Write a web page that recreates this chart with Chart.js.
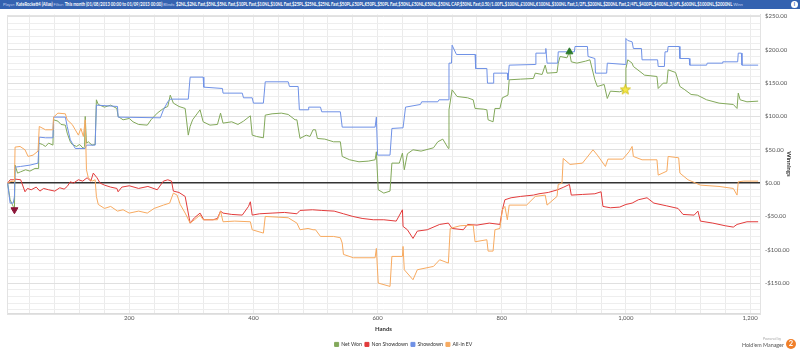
<!DOCTYPE html>
<html><head><meta charset="utf-8">
<script src="https://cdn.jsdelivr.net/npm/chart.js@4/dist/chart.umd.min.js"></script>
<style>
html,body{margin:0;padding:0;background:#fff;}
#wrap{position:relative;width:800px;height:352px;overflow:hidden;}
#hdr{position:absolute;left:0;top:0;width:800px;height:9px;background:#3462b0;z-index:2;overflow:hidden;}
#hdrtxt{position:absolute;left:3px;top:0;width:880px;color:#fff;font:bold 4.6px Lato,sans-serif;line-height:9px;white-space:nowrap;overflow:hidden;transform:scaleX(0.885);transform-origin:0 0;}
#hdr .k{color:#c4d3f0;font-weight:normal;}
#info{position:absolute;right:2px;top:1px;width:7px;height:7px;border-radius:50%;background:#fff;color:#3462b0;font:bold 5px Lato,sans-serif;text-align:center;line-height:7px;z-index:3;}
#powered{position:absolute;left:763px;top:336.5px;font:3.5px Lato,sans-serif;color:#aaa;}
#hm{position:absolute;left:742px;top:342px;font:5.4px Lato,sans-serif;color:#555;white-space:nowrap;}
#hm2{position:absolute;left:786px;top:339px;width:10px;height:10px;border-radius:50%;background:#f07f2a;color:#fff;font:bold 7.5px Lato,sans-serif;text-align:center;line-height:10px;}
canvas{position:absolute;left:0;top:0;}
</style></head>
<body><div id="wrap">
<canvas id="c" width="800" height="352"></canvas>
<div id="hdr"><div id="hdrtxt"><span class="k">Player:</span> KateRockett4 (Alias) <span class="k">Filter:</span> This month (01/08/2013 00:00 to 01/09/2013 00:00) <span class="k">Blinds:</span> $2NL,$2NL Fast,$5NL,$5NL Fast,$10PL Fast,$10NL,$10NL Fast,$25PL,$25NL,$25NL Fast,$50PL,£50PL,€50PL,$50PL Fast,$50NL,£50NL,€50NL,$50NL CAP,$50NL Fast,0.50/1.00FL,$100NL,£100NL,€100NL,$100NL Fast,1/2FL,$200NL,$200NL Fast,2/4FL,$400PL,$400NL,3/6FL,$600NL,$1000NL,$2000NL <span class="k">Winn</span></div></div>
<div id="info">i</div>
<div id="powered">Powered by</div>
<div id="hm">Hold'em Manager</div>
<div id="hm2">2</div>
</div>
<script>
// ---- data: [hand, winnings $] ----
const netWon = [[4,0],[8,-25],[13,-35],[15,-40],[16,27],[20,15],[25,17],[33,20],[40,18],[48,22],[53,22],[54,60],[60,58],[65,55],[70,60],[77,57],[78,95],[85,93],[90,88],[97,87],[100,75],[105,62],[108,58],[115,55],[120,58],[126,52],[128,55],[129,100],[131,60],[134,62],[140,57],[145,58],[147,125],[150,118],[160,114],[170,117],[180,112],[182,100],[190,95],[200,97],[206,92],[215,88],[229,87],[235,95],[245,105],[255,112],[262,115],[266,132],[271,120],[280,115],[290,112],[295,72],[298,85],[302,95],[310,105],[314,110],[319,92],[330,87],[342,88],[347,105],[351,90],[365,92],[375,88],[384,93],[395,101],[398,72],[405,70],[416,68],[419,102],[430,104],[445,105],[456,103],[467,95],[470,95],[475,67],[485,72],[491,70],[496,80],[500,80],[503,67],[515,66],[529,62],[540,62],[543,40],[555,35],[570,32],[585,33],[596,35],[598,47],[601,-10],[610,-15],[620,-12],[623,30],[635,30],[640,45],[643,20],[648,44],[657,50],[670,48],[690,53],[697,62],[705,66],[714,52],[715,110],[720,140],[728,130],[745,128],[754,125],[757,112],[770,111],[776,110],[778,95],[786,92],[789,112],[797,112],[801,128],[810,132],[812,155],[830,156],[851,157],[854,165],[865,163],[870,177],[873,165],[889,166],[891,180],[894,190],[905,188],[909,197],[912,182],[921,180],[935,183],[942,185],[950,155],[954,145],[965,148],[970,127],[975,138],[990,137],[999,140],[1000,172],[1003,185],[1010,180],[1012,175],[1026,165],[1030,162],[1050,160],[1052,142],[1060,150],[1066,150],[1068,170],[1080,166],[1087,145],[1095,140],[1105,133],[1115,132],[1130,125],[1150,120],[1173,118],[1179,112],[1181,135],[1184,125],[1195,122],[1213,123]];

const nonShowdown = [[4,0],[8,5],[13,5],[16,6],[25,5],[32,-13],[36,-8],[42,-10],[50,-6],[56,-12],[62,-8],[70,-10],[80,-12],[88,-7],[95,-9],[100,-5],[105,2],[110,0],[118,5],[125,3],[132,8],[138,3],[142,15],[148,8],[153,0],[160,-3],[170,-6],[180,-8],[182,-13],[188,-6],[200,-4],[215,-8],[230,-5],[245,-10],[255,3],[262,5],[268,3],[271,-12],[280,-14],[290,-20],[298,-60],[305,-52],[314,-45],[320,-55],[335,-55],[342,-53],[347,-42],[351,-45],[365,-47],[382,-48],[392,-35],[395,-28],[398,-48],[410,-46],[430,-45],[450,-44],[470,-46],[475,-41],[495,-40],[510,-41],[530,-42],[545,-46],[560,-50],[575,-53],[593,-55],[610,-55],[630,-57],[640,-40],[641,-65],[648,-70],[657,-83],[664,-72],[680,-70],[700,-62],[714,-60],[720,-68],[738,-70],[745,-62],[760,-63],[780,-60],[797,-62],[801,-40],[805,-25],[815,-22],[830,-20],[851,-18],[860,-16],[875,-14],[890,-10],[900,-6],[909,-2],[912,-18],[930,-17],[950,-16],[960,-13],[963,-35],[975,-37],[990,-36],[1000,-32],[1010,-30],[1020,-25],[1034,-22],[1045,-30],[1065,-34],[1084,-38],[1092,-47],[1110,-48],[1116,-42],[1120,-57],[1140,-60],[1160,-64],[1173,-66],[1179,-62],[1195,-58],[1213,-58]];

const showdown = [[4,0],[8,-30],[13,-30],[15,-20],[16,24],[25,25],[40,27],[53,30],[55,69],[65,68],[77,68],[78,99],[97,99],[100,85],[105,65],[108,60],[113,52],[129,52],[131,57],[145,57],[147,117],[181,115],[182,99],[250,98],[255,110],[262,122],[266,126],[295,126],[298,159],[319,159],[320,144],[350,142],[351,135],[382,135],[384,128],[398,128],[400,120],[416,120],[419,152],[456,152],[458,145],[472,145],[474,110],[488,110],[489,114],[508,114],[510,107],[540,107],[543,84],[596,84],[598,99],[600,42],[620,42],[623,82],[641,83],[645,114],[669,118],[671,122],[697,122],[699,125],[714,125],[715,180],[719,180],[720,207],[727,193],[757,193],[758,172],[776,172],[777,150],[786,150],[787,165],[809,165],[810,155],[812,177],[854,178],[855,195],[870,195],[871,202],[873,180],[890,180],[891,197],[917,197],[918,205],[938,205],[939,190],[950,187],[951,165],[969,165],[970,180],[999,178],[1000,217],[1003,214],[1010,212],[1012,202],[1025,202],[1026,185],[1051,185],[1052,175],[1062,175],[1063,197],[1067,197],[1068,205],[1086,205],[1087,187],[1102,187],[1103,177],[1130,177],[1131,180],[1155,180],[1156,182],[1180,182],[1181,195],[1186,195],[1187,177],[1213,177]];

const allInEV = [[4,0],[8,2],[13,3],[15,2],[16,54],[24,55],[32,50],[37,40],[45,42],[53,48],[55,85],[65,80],[77,80],[78,99],[85,105],[97,104],[100,95],[108,88],[113,80],[118,72],[122,82],[126,70],[129,95],[131,20],[134,8],[140,3],[145,5],[147,-20],[150,-32],[160,-38],[170,-35],[181,-42],[190,-40],[200,-45],[215,-42],[229,-45],[240,-38],[255,-33],[265,-30],[271,-15],[277,-18],[282,-32],[290,-45],[298,-60],[305,-55],[314,-48],[319,-55],[342,-55],[347,-42],[351,-58],[370,-57],[395,-58],[398,-70],[416,-75],[419,-50],[456,-52],[470,-60],[475,-70],[488,-68],[496,-70],[500,-70],[508,-80],[529,-80],[540,-82],[543,-90],[545,-107],[561,-112],[596,-112],[598,-98],[601,-150],[620,-155],[623,-110],[640,-110],[641,-95],[643,-130],[657,-145],[664,-130],[690,-125],[700,-115],[714,-120],[717,-68],[733,-64],[754,-63],[757,-88],[776,-85],[778,-102],[786,-102],[789,-70],[797,-68],[801,-40],[805,-35],[809,-55],[812,-33],[840,-33],[854,-20],[870,-18],[873,-33],[889,-20],[891,-2],[897,0],[899,37],[910,28],[930,30],[947,50],[954,42],[967,25],[971,36],[995,36],[1005,47],[1010,55],[1012,40],[1026,35],[1050,35],[1052,12],[1066,18],[1068,40],[1085,38],[1087,15],[1100,5],[1120,-3],[1150,-5],[1173,-8],[1179,-18],[1181,2],[1190,3],[1213,3]];

const seriesNames = ['Net Won', 'Non Showdown', 'Showdown', 'All-in EV'];
const starPoint = [[999, 140]];
const handLabels = [200, 400, 600, 800, 1000, 1200];

// ---- styling ----
const colors = ['#82a85a', '#e23b3b', '#6f91e6', '#f7aa60'];
Chart.defaults.font.family = "Lato, sans-serif";

function starImage(size, fill, stroke) {
  const c = document.createElement('canvas'); c.width = c.height = size;
  const g = c.getContext('2d'); g.beginPath();
  for (let i = 0; i < 10; i++) {
    const r = i % 2 ? size * 0.2 : size * 0.48, a = -Math.PI / 2 + i * Math.PI / 5;
    g.lineTo(size / 2 + r * Math.cos(a), size / 2 + r * Math.sin(a));
  }
  g.closePath(); g.fillStyle = fill; g.fill(); g.strokeStyle = stroke; g.lineWidth = 0.8; g.stroke();
  return c;
}

const series = [netWon, nonShowdown, showdown, allInEV];
const lowPt = netWon.reduce((a, b) => b[1] < a[1] ? b : a);
const highPt = netWon.reduce((a, b) => b[1] > a[1] ? b : a);

const datasets = series.map((d, i) => ({
  label: seriesNames[i], data: d, borderColor: colors[i], backgroundColor: colors[i],
  borderWidth: 1, pointRadius: 0, tension: 0, fill: false, order: 4 - i
}));
datasets.push({label: 'low', data: [lowPt], type: 'scatter', pointStyle: 'triangle', rotation: 180, pointRadius: 4, backgroundColor: '#8b1538', borderColor: '#8b1538', order: 0});
datasets.push({label: 'high', data: [highPt], type: 'scatter', pointStyle: 'triangle', pointRadius: 4, backgroundColor: '#2b7a2b', borderColor: '#2b7a2b', order: 0});
datasets.push({label: 'star', data: starPoint, type: 'scatter', pointStyle: starImage(11, '#f5e84a', '#c9b800'), order: 0});

const frame = {
  id: 'frame',
  beforeDatasetsDraw(chart) {
    const {ctx, chartArea: a} = chart;
    ctx.save(); ctx.strokeStyle = '#e3e3e3'; ctx.lineWidth = 1;
    ctx.strokeRect(Math.round(a.left) + 0.5, Math.round(a.top) + 0.5, Math.round(a.right - a.left), Math.round(a.bottom - a.top));
    ctx.restore();
  }
};

const fmt = v => (v < 0 ? '-$' : '$') + Math.abs(v).toFixed(2);

new Chart(document.getElementById('c'), {
  type: 'line',
  data: {datasets},
  plugins: [frame],
  options: {
    responsive: false, animation: false, devicePixelRatio: 1,
    layout: {padding: {left: 7, top: 14.5, right: 0, bottom: -5}},
    plugins: {
      tooltip: {enabled: false},
      legend: {
        position: 'bottom',
        labels: {
          usePointStyle: true, pointStyle: 'rect', boxWidth: 4, boxHeight: 4, padding: 3,
          color: '#333', font: {size: 5.2},
          filter: item => item.datasetIndex < 4,
          sort: (a, b) => a.datasetIndex - b.datasetIndex
        }
      }
    },
    scales: {
      x: {
        type: 'linear', min: 3, max: 1216,
        ticks: {stepSize: 40, includeBounds: false, autoSkip: false, maxRotation: 0, padding: 1,
          color: '#555', font: {size: 6},
          callback: v => handLabels.includes(v) ? v.toLocaleString('en-US') : ''},
        grid: {color: '#ebebeb', drawTicks: false},
        border: {color: '#dcdcdc'},
        title: {display: true, text: 'Hands', color: '#333', font: {size: 6, weight: 'bold'}, padding: {top: 3, bottom: 6}}
      },
      y: {
        type: 'linear', position: 'right', min: -195.5, max: 253,
        afterFit: s => { s.width = 40; },
        ticks: {stepSize: 10, includeBounds: false, autoSkip: false, padding: 5, color: '#555', font: {size: 6},
          callback: v => v % 50 === 0 ? fmt(v) : ''},
        grid: {drawTicks: false,
          color: c => c.tick && c.tick.value === 0 ? '#333' : (c.tick && c.tick.value % 50 === 0 ? '#e0e0e0' : '#eeeeee'),
          lineWidth: c => c.tick && c.tick.value === 0 ? 1.5 : 1},
        border: {color: '#dcdcdc'},
        title: {display: true, text: 'Winnings', color: '#333', font: {size: 6, weight: 'bold'}, padding: {top: 7, bottom: 0}}
      }
    }
  }
});
</script>
</body></html>
